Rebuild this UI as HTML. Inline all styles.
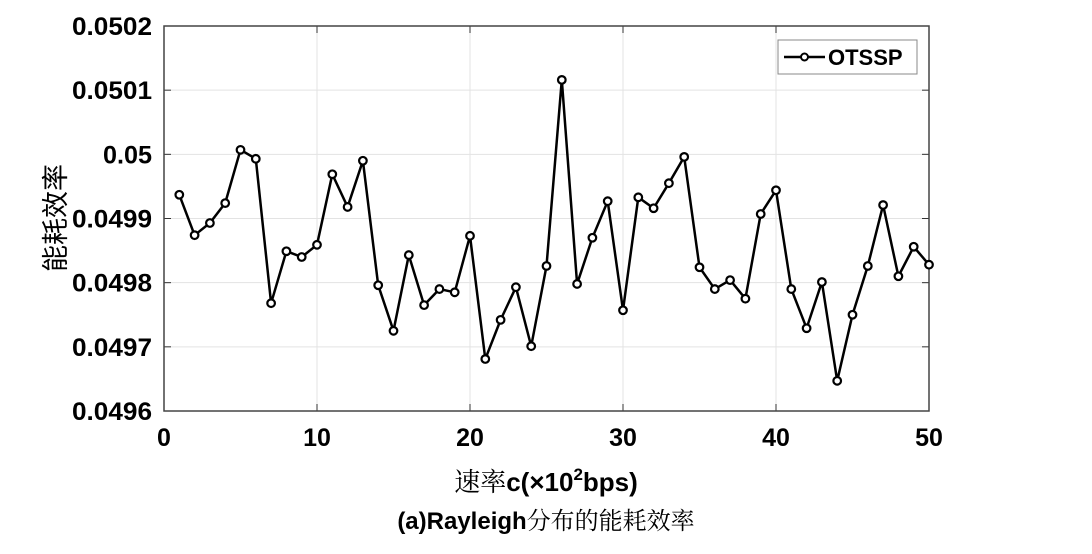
<!DOCTYPE html>
<html><head><meta charset="utf-8"><style>
body{margin:0;background:#fff;}
svg text{font-family:"Liberation Sans","Noto Sans CJK SC",sans-serif;}
</style></head><body>
<svg id="c" width="1092" height="549" xmlns="http://www.w3.org/2000/svg">
<rect width="1092" height="549" fill="#fff"/>
<g id="grid"></g>
<g id="axes"></g>
<g id="series"></g>
<text x="546" y="491" text-anchor="middle" font-size="26"><tspan font-family="Noto Serif CJK SC,serif">速率</tspan><tspan font-weight="bold">c(×10</tspan><tspan font-weight="bold" font-size="17" dy="-11">2</tspan><tspan font-weight="bold" dy="11">bps)</tspan></text>
<text x="546" y="529" text-anchor="middle" font-size="24"><tspan font-weight="bold">(a)Rayleigh</tspan><tspan font-family="Noto Serif CJK SC,serif">分布的能耗效率</tspan></text>
<text transform="translate(65,218) rotate(-90)" text-anchor="middle" font-size="27" font-family="Noto Serif CJK SC,serif">能耗效率</text>
<g>
<rect x="778" y="40" width="139" height="34" fill="#fff" stroke="#888" stroke-width="1"/>
<line x1="784" y1="57" x2="825" y2="57" stroke="#000" stroke-width="2.5"/>
<circle cx="804.5" cy="57" r="3.5" fill="#fff" stroke="#000" stroke-width="2"/>
<text x="828" y="65" font-size="22" font-weight="bold">OTSSP</text>
</g>
</svg>
<script>
const xValues=[1,2,3,4,5,6,7,8,9,10,11,12,13,14,15,16,17,18,19,20,21,22,23,24,25,26,27,28,29,30,31,32,33,34,35,36,37,38,39,40,41,42,43,44,45,46,47,48,49,50];
const otssp=[0.049937,0.049874,0.049893,0.049924,0.050007,0.049993,0.049768,0.049849,0.049840,0.049859,0.049969,0.049918,0.049990,0.049796,0.049725,0.049843,0.049765,0.049790,0.049785,0.049873,0.049681,0.049742,0.049793,0.049701,0.049826,0.050116,0.049798,0.049870,0.049927,0.049757,0.049933,0.049916,0.049955,0.049996,0.049824,0.049790,0.049804,0.049775,0.049907,0.049944,0.049790,0.049729,0.049801,0.049647,0.049750,0.049826,0.049921,0.049810,0.049856,0.049828];
const xTicks=[0,10,20,30,40,50];
const yTicks=[0.0496,0.0497,0.0498,0.0499,0.05,0.0501,0.0502];
const yTickLabels=["0.0496","0.0497","0.0498","0.0499","0.05","0.0501","0.0502"];
const L=164,R=929,T=26,B=411,xmin=0,xmax=50,ymin=0.0496,ymax=0.0502;
const sx=v=>L+(v-xmin)/(xmax-xmin)*(R-L);
const sy=v=>B-(v-ymin)/(ymax-ymin)*(B-T);
const NS="http://www.w3.org/2000/svg";
function mk(t,a,p){const e=document.createElementNS(NS,t);for(const k in a)e.setAttribute(k,a[k]);p.appendChild(e);return e;}
const grid=document.getElementById('grid'),axes=document.getElementById('axes'),ser=document.getElementById('series');
xTicks.forEach(v=>{
 const g=mk('line',{x1:sx(v),x2:sx(v),y1:T,y2:B,stroke:'#e3e3e3','stroke-width':1},grid);
 
 
 mk('line',{x1:sx(v),x2:sx(v),y1:B,y2:B-7,stroke:'#333'},axes);
 mk('line',{x1:sx(v),x2:sx(v),y1:T,y2:T+7,stroke:'#333'},axes);
 const t=mk('text',{x:sx(v),y:B+35,'text-anchor':'middle','font-size':25,'font-weight':'bold'},axes);
 t.textContent=v;
 
 
});
yTicks.forEach((v,i)=>{
 const g=mk('line',{x1:L,x2:R,y1:sy(v),y2:sy(v),stroke:'#e3e3e3','stroke-width':1},grid);
 
 
 mk('line',{x1:L,x2:L+7,y1:sy(v),y2:sy(v),stroke:'#333'},axes);
 mk('line',{x1:R,x2:R-7,y1:sy(v),y2:sy(v),stroke:'#333'},axes);
 const len=yTickLabels[i].length<6?49:80;
 const t=mk('text',{x:L-12,y:sy(v)+9,'text-anchor':'end','font-size':25,'font-weight':'bold',textLength:len,lengthAdjust:'spacingAndGlyphs'},axes);
 t.textContent=yTickLabels[i];
 
 
});
mk('rect',{x:L,y:T,width:R-L,height:B-T,fill:'none',stroke:'#444','stroke-width':1.5},axes);
const pl=mk('polyline',{points:otssp.map((v,i)=>sx(xValues[i])+','+sy(v)).join(' '),fill:'none',stroke:'#000','stroke-width':2.5,'stroke-linejoin':'round'},ser);


otssp.forEach((v,i)=>{
 const c=mk('circle',{cx:sx(xValues[i]),cy:sy(v),r:3.8,fill:'#fff',stroke:'#000','stroke-width':2.2},ser);
 
 
});
</script>
</body></html>
